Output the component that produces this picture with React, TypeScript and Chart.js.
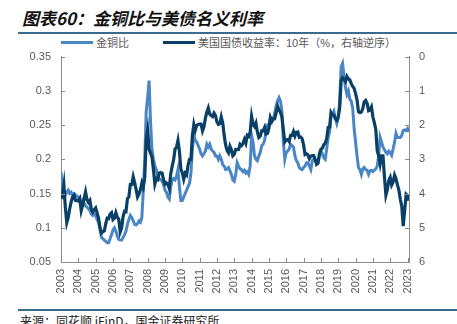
import React, { useEffect, useRef } from "react";
import { Chart, registerables } from "chart.js";

Chart.register(...registerables);

// Monthly points; the first point sits on the "2003" tick
const startYear = 2003;

const yearLabels = [
  "2003", "2004", "2005", "2006", "2007", "2008", "2009", "2010", "2011", "2012",
  "2013", "2014", "2015", "2016", "2017", "2018", "2019", "2020", "2021", "2022", "2023",
];

const leftTicks = [0.05, 0.1, 0.15, 0.2, 0.25, 0.3, 0.35];
const rightTicks = [0, 1, 2, 3, 4, 5, 6];

// 金铜比 (left axis)
const goldCopperRatio = [
  0.182, 0.155, 0.145, 0.148, 0.152, 0.155, 0.150, 0.152, 0.148, 0.150, 0.148, 0.146,
  0.145, 0.140, 0.137, 0.140, 0.136, 0.132, 0.130, 0.128, 0.125, 0.120, 0.118, 0.120,
  0.118, 0.112, 0.108, 0.097, 0.086, 0.084, 0.082, 0.080, 0.078, 0.078, 0.084, 0.090,
  0.097, 0.100, 0.095, 0.088, 0.083, 0.082, 0.082, 0.086, 0.090, 0.095, 0.105, 0.112,
  0.118, 0.115, 0.110, 0.105, 0.104, 0.106, 0.110, 0.108, 0.115, 0.155, 0.200, 0.270,
  0.290, 0.315, 0.255, 0.215, 0.200, 0.190, 0.185, 0.175, 0.172, 0.170, 0.168, 0.163,
  0.155, 0.152, 0.145, 0.142, 0.160, 0.170, 0.172, 0.170, 0.175, 0.185, 0.160, 0.140,
  0.140, 0.145, 0.150, 0.155, 0.160, 0.165, 0.180, 0.215, 0.235, 0.228, 0.225, 0.220,
  0.215, 0.208, 0.205, 0.208, 0.212, 0.222, 0.218, 0.222, 0.215, 0.212, 0.210, 0.205,
  0.205, 0.200, 0.205, 0.200, 0.192, 0.190, 0.185, 0.186, 0.188, 0.183, 0.178, 0.170,
  0.168, 0.178, 0.195, 0.190, 0.186, 0.185, 0.182, 0.184, 0.180, 0.182, 0.178, 0.190,
  0.235, 0.225, 0.205, 0.200, 0.198, 0.205, 0.210, 0.220, 0.222, 0.228, 0.240, 0.250,
  0.250, 0.260, 0.255, 0.258, 0.268, 0.278, 0.285, 0.290, 0.285, 0.270, 0.225, 0.200,
  0.210, 0.212, 0.215, 0.222, 0.220, 0.218, 0.205, 0.198, 0.195, 0.188, 0.186, 0.185,
  0.188, 0.190, 0.195, 0.195, 0.190, 0.185, 0.198, 0.200, 0.198, 0.195, 0.197, 0.205,
  0.212, 0.208, 0.202, 0.200, 0.215, 0.232, 0.240, 0.262, 0.265, 0.270, 0.260, 0.252,
  0.260, 0.285, 0.335, 0.340, 0.322, 0.305, 0.295, 0.300, 0.288, 0.285, 0.275, 0.245,
  0.225, 0.205, 0.188, 0.185, 0.178, 0.186, 0.188, 0.185, 0.184, 0.178, 0.183, 0.184,
  0.182, 0.184, 0.186, 0.190, 0.205, 0.232, 0.225, 0.218, 0.214, 0.210, 0.208, 0.212,
  0.210, 0.206, 0.215, 0.225, 0.238, 0.232, 0.232, 0.232, 0.235, 0.242, 0.243, 0.242,
  0.245, 0.240,
];

// 美国国债收益率：10年 (%, right axis, reversed)
const treasury10y = [
  4.15, 4.05, 3.75, 4.40, 4.85, 4.70, 4.45, 4.25, 4.10, 4.05, 4.20, 4.20,
  4.22, 4.15, 4.50, 4.34, 4.14, 3.95, 4.18, 4.26, 4.20, 4.46, 4.54, 4.47,
  4.42, 4.57, 4.72, 4.99, 5.15, 5.11, 5.09, 4.88, 4.72, 4.73, 4.60, 4.56,
  4.76, 4.72, 4.56, 4.69, 4.75, 5.12, 5.00, 4.67, 4.52, 4.53, 4.15, 4.10,
  3.74, 3.74, 3.51, 3.68, 3.88, 4.10, 4.01, 3.89, 3.69, 3.81, 3.53, 2.45,
  2.15, 2.70, 2.82, 2.93, 3.29, 3.72, 3.56, 3.59, 3.40, 3.39, 3.40, 3.59,
  3.73, 3.69, 3.73, 3.85, 3.42, 3.20, 3.01, 2.70, 2.65, 2.45, 2.76, 3.29,
  3.39, 3.58, 3.41, 3.46, 3.17, 3.00, 3.00, 2.30, 1.98, 2.15, 2.01, 1.98,
  1.97, 1.97, 2.17, 2.05, 1.80, 1.62, 1.50, 1.68, 1.72, 1.75, 1.65, 1.72,
  1.91, 1.98, 1.96, 1.76, 1.93, 2.30, 2.58, 2.74, 2.81, 2.62, 2.72, 2.90,
  2.86, 2.71, 2.72, 2.71, 2.56, 2.60, 2.54, 2.42, 2.53, 2.30, 2.33, 2.21,
  1.75, 1.98, 2.04, 1.94, 2.20, 2.36, 2.32, 2.17, 2.17, 2.07, 2.26, 2.24,
  2.09, 1.78, 1.89, 1.81, 1.81, 1.64, 1.45, 1.56, 1.63, 1.76, 2.14, 2.49,
  2.43, 2.42, 2.48, 2.30, 2.30, 2.19, 2.32, 2.21, 2.20, 2.36, 2.35, 2.40,
  2.58, 2.86, 2.84, 2.87, 2.98, 2.91, 2.89, 2.89, 3.00, 3.15, 3.12, 2.83,
  2.71, 2.68, 2.57, 2.53, 2.40, 2.07, 2.06, 1.63, 1.70, 1.71, 1.81, 1.86,
  1.76, 1.50, 0.70, 0.62, 0.67, 0.73, 0.58, 0.65, 0.68, 0.79, 0.87, 0.93,
  1.08, 1.26, 1.61, 1.64, 1.62, 1.52, 1.32, 1.28, 1.37, 1.58, 1.56, 1.47,
  1.76, 1.93, 2.13, 2.75, 2.90, 3.14, 2.90, 2.90, 3.52, 4.05, 3.89, 3.62,
  3.53, 3.75, 3.66, 3.46, 3.57, 3.75, 3.90, 4.17, 4.38, 4.95, 4.50, 4.02,
  4.06, 4.21,
];

const seriesNames = ["金铜比", "美国国债收益率：10年（%，右轴逆序）"];
const title = "图表60：金铜比与美债名义利率";
const source = "来源：同花顺 iFinD，国金证券研究所";

const LIGHT = "#4A86C6";
const DARK = "#0B4066";
const AXIS = "#8C8C8C";
const TEXT = "#595959";
const RULE = "#3B6C8C";
const FONT = "'Liberation Sans', Arial, 'Noto Sans CJK SC', sans-serif";

const innerTicks = {
  id: "innerTicks",
  afterDraw(chart: any) {
    const { ctx, chartArea, scales } = chart;
    ctx.save();
    ctx.strokeStyle = AXIS;
    ctx.lineWidth = 1;
    ctx.beginPath();
    scales.x.ticks.forEach((t: any) => {
      const x = Math.round(scales.x.getPixelForValue(t.value)) + 0.5;
      ctx.moveTo(x, chartArea.bottom);
      ctx.lineTo(x, chartArea.bottom - 4);
    });
    scales.y.ticks.forEach((t: any) => {
      const y = Math.round(scales.y.getPixelForValue(t.value)) + 0.5;
      ctx.moveTo(chartArea.left, y);
      ctx.lineTo(chartArea.left + 4, y);
    });
    scales.y1.ticks.forEach((t: any) => {
      const y = Math.round(scales.y1.getPixelForValue(t.value)) + 0.5;
      ctx.moveTo(chartArea.right, y);
      ctx.lineTo(chartArea.right - 4, y);
    });
    ctx.stroke();
    ctx.restore();
  },
};

export default function App() {
  const ref = useRef<HTMLCanvasElement>(null);

  useEffect(() => {
    if (!ref.current) return;
    const toPoints = (arr: number[]) => arr.map((v, i) => ({ x: startYear + i / 12, y: v }));
    const tickFont = { family: FONT, size: 11 };
    const chart = new Chart(ref.current, {
      type: "line",
      data: {
        datasets: [
          {
            label: seriesNames[0],
            data: toPoints(goldCopperRatio),
            borderColor: LIGHT,
            backgroundColor: LIGHT,
            borderWidth: 3,
            pointRadius: 0,
            tension: 0,
            yAxisID: "y",
            order: 2,
          },
          {
            label: seriesNames[1],
            data: toPoints(treasury10y),
            borderColor: DARK,
            backgroundColor: DARK,
            borderWidth: 3.2,
            pointRadius: 0,
            tension: 0,
            yAxisID: "y1",
            order: 1,
          },
        ],
      },
      options: {
        responsive: false,
        animation: false,
        devicePixelRatio: 1,
        layout: { padding: { top: 10, left: 0, right: 0, bottom: 0 } },
        plugins: { legend: { display: false }, tooltip: { enabled: false } },
        scales: {
          x: {
            type: "linear",
            min: startYear,
            max: startYear + (goldCopperRatio.length - 1) / 12,
            grid: { display: false, drawTicks: false },
            border: { display: true, color: AXIS, width: 1 },
            afterBuildTicks: (s: any) => {
              s.ticks = yearLabels.map((l) => ({ value: Number(l) }));
            },
            afterFit: (s: any) => {
              s.height = 40;
            },
            ticks: {
              autoSkip: false,
              minRotation: 90,
              maxRotation: 90,
              padding: 7,
              color: TEXT,
              font: tickFont,
              callback: (v: any, i: number) => yearLabels[i],
            },
          },
          y: {
            position: "left",
            min: 0.05,
            max: 0.35,
            grid: { display: false, drawTicks: false },
            border: { display: true, color: AXIS, width: 1 },
            afterBuildTicks: (s: any) => {
              s.ticks = leftTicks.map((v) => ({ value: v }));
            },
            afterFit: (s: any) => {
              s.width = 61;
            },
            ticks: {
              padding: 10,
              color: TEXT,
              font: tickFont,
              callback: (v: any) => String(Math.round(Number(v) * 100) / 100),
            },
          },
          y1: {
            position: "right",
            reverse: true,
            min: 0,
            max: 6,
            grid: { display: false, drawTicks: false },
            border: { display: true, color: AXIS, width: 1 },
            afterBuildTicks: (s: any) => {
              s.ticks = rightTicks.map((v) => ({ value: v }));
            },
            afterFit: (s: any) => {
              s.width = 48;
            },
            ticks: {
              padding: 10,
              color: TEXT,
              font: tickFont,
              callback: (v: any) => String(v),
            },
          },
        },
      },
      plugins: [innerTicks],
    } as any);
    return () => chart.destroy();
  }, []);

  const legendText: React.CSSProperties = {
    position: "absolute",
    top: 36,
    fontFamily: FONT,
    fontSize: 11,
    lineHeight: "14px",
    color: TEXT,
    whiteSpace: "nowrap",
  };

  return (
    <div
      style={{
        position: "absolute",
        left: 0,
        top: 0,
        width: 457,
        height: 324,
        overflow: "hidden",
        background: "#fff",
      }}
    >
      <div
        style={{
          position: "absolute",
          left: 22,
          top: 9,
          fontFamily: "'Noto Sans CJK SC', sans-serif",
          fontWeight: 700,
          fontStyle: "italic",
          fontSize: 17,
          lineHeight: "18px",
          color: "#111",
          whiteSpace: "nowrap",
        }}
      >
        {title}
      </div>
      <div style={{ position: "absolute", left: 18, right: 0, top: 32, height: 2, background: RULE }} />

      <div style={{ position: "absolute", left: 61, top: 41, width: 32, height: 3, background: LIGHT }} />
      <div style={{ ...legendText, left: 96 }}>{seriesNames[0]}</div>
      <div style={{ position: "absolute", left: 163, top: 41, width: 32, height: 3, background: DARK }} />
      <div style={{ ...legendText, left: 198 }}>{seriesNames[1]}</div>

      <canvas
        ref={ref}
        width={457}
        height={262}
        style={{ position: "absolute", left: 0, top: 40, width: 457, height: 262 }}
      />

      <div style={{ position: "absolute", left: 18, right: 0, top: 309, height: 2, background: RULE }} />
      <div
        style={{
          position: "absolute",
          left: 20,
          top: 314,
          fontFamily: "'Noto Sans CJK SC', sans-serif",
          fontSize: 12,
          lineHeight: "14px",
          color: "#222",
          whiteSpace: "nowrap",
        }}
      >
        {source}
      </div>
    </div>
  );
}
